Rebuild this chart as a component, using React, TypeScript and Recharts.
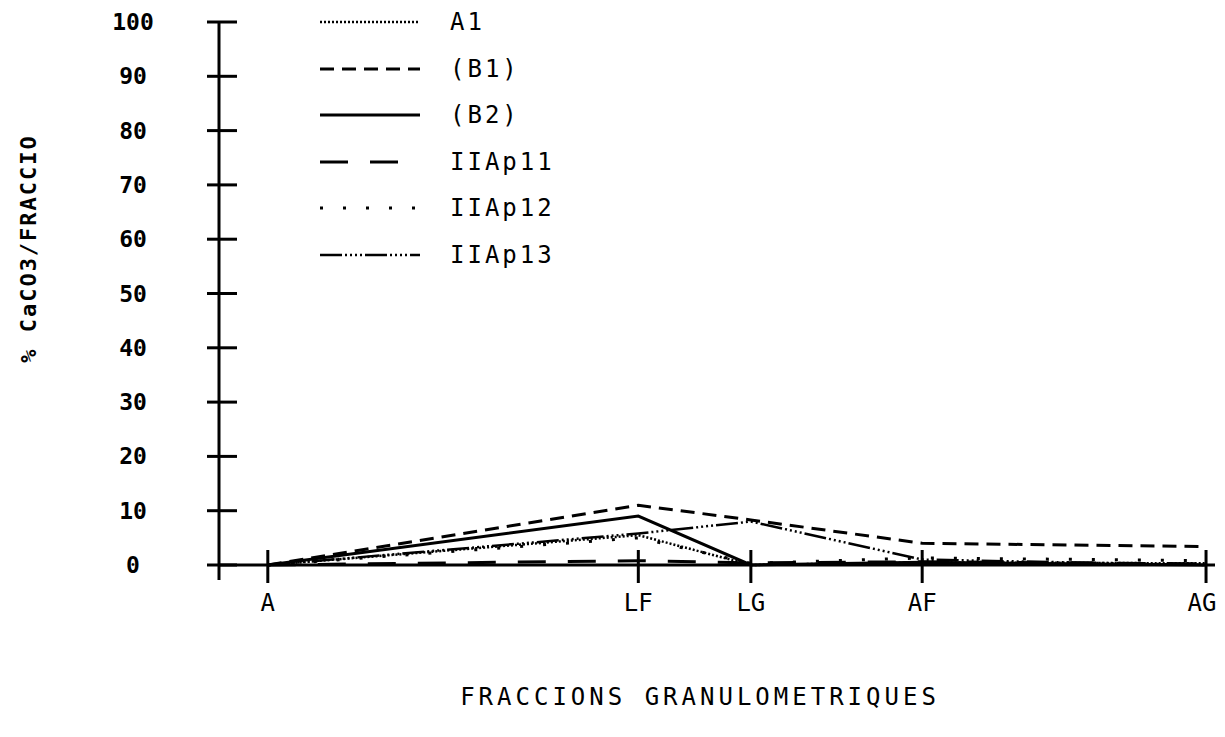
import { LineChart, Line, XAxis, YAxis, Label } from "recharts";

const categories = ["A", "LF", "LG", "AF", "AG"];
const positions = [4.9, 42.1, 53.4, 70.6, 99.1];
const yTicks = [0, 10, 20, 30, 40, 50, 60, 70, 80, 90, 100];

const a1 = [0, 5.5, 0, 0.5, 0.3];
const b1 = [0, 11, 8.3, 4, 3.4];
const b2 = [0, 9, 0, 0.5, 0];
const iiap11 = [0, 0.8, 0.4, 0.6, 0.2];
const iiap12 = [0, 5, 0.3, 1.3, 0.8];
const iiap13 = [0, 5.8, 8, 1, 0];

const series = [
  { key: "a1", name: "A1", values: a1, dash: "2 2", width: 2.5 },
  { key: "b1", name: "(B1)", values: b1, dash: "14 8", width: 3 },
  { key: "b2", name: "(B2)", values: b2, dash: undefined, width: 3 },
  { key: "iiap11", name: "IIAp11", values: iiap11, dash: "28 22", width: 3 },
  { key: "iiap12", name: "IIAp12", values: iiap12, dash: "3 20", width: 3 },
  { key: "iiap13", name: "IIAp13", values: iiap13, dash: "22 3 2 3 2 3 2 3 2 3", width: 2.5 },
];

const data = categories.map((c, i) => {
  const row: any = { name: c, x: positions[i] };
  series.forEach((s) => (row[s.key] = s.values[i]));
  return row;
});

const font = "'DejaVu Sans Mono', monospace";

const YTick = (props: any) => {
  const { x, y, payload } = props;
  return (
    <g>
      <line x1={x - 12} x2={x + 18} y1={y} y2={y} stroke="#000" strokeWidth={3} />
      {payload.value === 0 && <line x1={x} x2={x} y1={y} y2={y + 15} stroke="#000" strokeWidth={3} />}
      <text x={x - 86} y={y} textAnchor="middle" dominantBaseline="central" fontFamily={font} fontWeight="bold" fontSize={23} fill="#000">
        {payload.value}
      </text>
    </g>
  );
};

const XTick = (props: any) => {
  const { x, y, payload } = props;
  const idx = positions.indexOf(payload.value);
  return (
    <g>
      <line x1={x} x2={x} y1={y - 15} y2={y + 18} stroke="#000" strokeWidth={3} />
      <text x={x - (idx === categories.length - 1 ? 4 : 0)} y={y + 38} textAnchor="middle" dominantBaseline="central" fontFamily={font} fontSize={24} fill="#000">
        {categories[idx]}
      </text>
    </g>
  );
};

const LegendBox = () => (
  <div style={{ position: "absolute", top: -9, left: 302, fontFamily: font }}>
    {series.map((s) => (
      <div key={s.key} style={{ height: 46.5, display: "flex", alignItems: "center" }}>
        <svg width={125} height={10}>
          <line x1={10} x2={110} y1={5} y2={5} stroke="#000" strokeWidth={s.width} strokeDasharray={s.dash} />
        </svg>
        <span style={{ fontSize: 24, letterSpacing: 3, marginLeft: 15, color: "#000" }}>{s.name}</span>
      </div>
    ))}
  </div>
);

export default function App() {
  return (
    <div style={{ position: "relative", width: 1217, height: 721, background: "#fff" }}>
      <LineChart width={1217} height={721} data={data} margin={{ top: 14, right: 10, left: 0, bottom: 0 }}>
        <XAxis
          dataKey="x"
          type="number"
          domain={[0, 100]}
          ticks={positions}
          tick={<XTick />}
          tickSize={0}
          tickMargin={0}
          height={164}
          axisLine={{ stroke: "#000", strokeWidth: 3 }}
          interval={0}
        >
          <Label
            content={(p: any) => (
              <text
                x={p.viewBox.x + p.viewBox.width / 2 - 17}
                y={p.viewBox.y + 132}
                textAnchor="middle"
                dominantBaseline="central"
                fontFamily={font}
                fontSize={24}
                letterSpacing={4}
                fill="#000"
              >
                FRACCIONS GRANULOMETRIQUES
              </text>
            )}
          />
        </XAxis>
        <YAxis
          type="number"
          domain={[0, 100]}
          ticks={yTicks}
          tick={<YTick />}
          tickSize={0}
          tickMargin={0}
          width={211}
          axisLine={{ stroke: "#000", strokeWidth: 3 }}
          interval={0}
        >
          <Label
            content={(p: any) => {
              const cx = 20;
              const cy = p.viewBox.y + p.viewBox.height / 2 - 45;
              return (
                <text
                  x={cx}
                  y={cy}
                  transform={`rotate(-90 ${cx} ${cy})`}
                  textAnchor="middle"
                  dominantBaseline="central"
                  fontFamily={font}
                  fontSize={22}
                  fontWeight="bold"
                  letterSpacing={2}
                  fill="#000"
                >
                  % CaCO3/FRACCIO
                </text>
              );
            }}
          />
        </YAxis>
        {series.map((s) => (
          <Line
            key={s.key}
            type="linear"
            dataKey={s.key}
            name={s.name}
            stroke="#000"
            strokeWidth={s.width}
            strokeDasharray={s.dash}
            dot={false}
            activeDot={false}
            isAnimationActive={false}
          />
        ))}
      </LineChart>
      <LegendBox />
    </div>
  );
}
